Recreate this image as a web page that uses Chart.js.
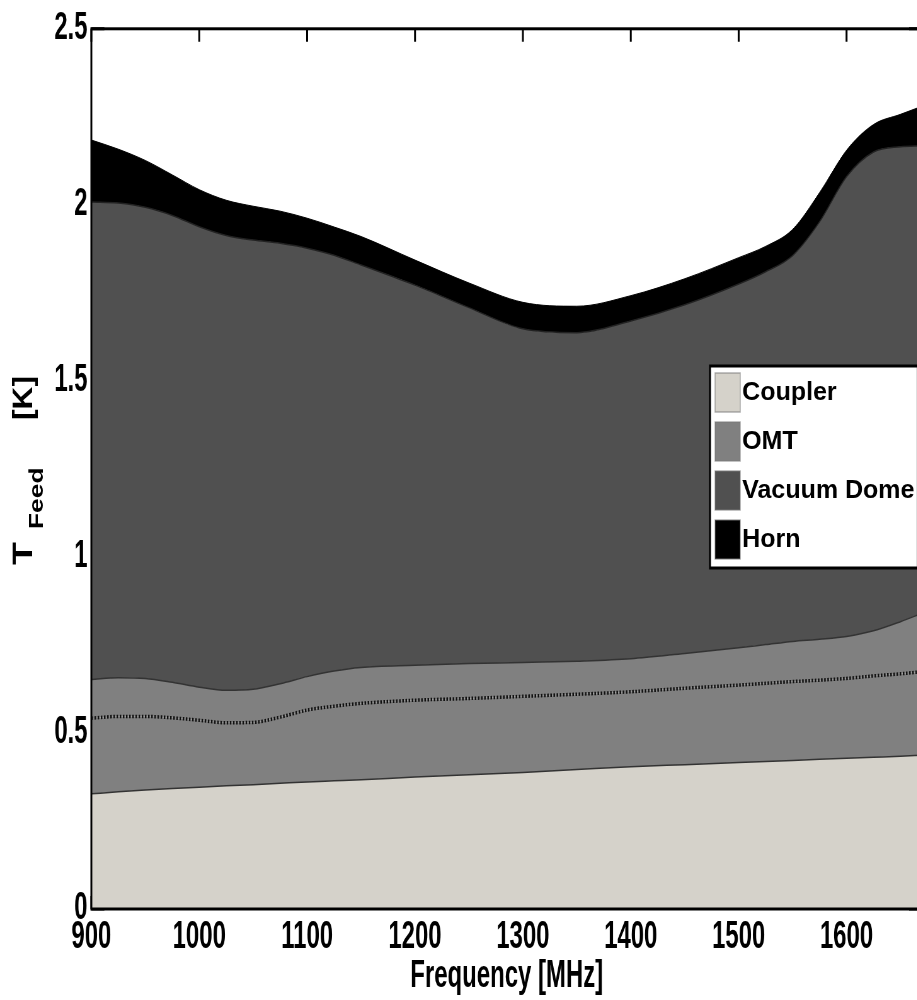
<!DOCTYPE html>
<html>
<head>
<meta charset="utf-8">
<script src="https://cdn.jsdelivr.net/npm/chart.js@4.4.1/dist/chart.umd.min.js"></script>
<style>
  html, body { margin: 0; padding: 0; background: #fff; overflow: hidden; width: 917px; height: 1000px; }
  #wrap { position: absolute; left: 0; top: 0; transform-origin: 0 0; }
  canvas { display: block; }
</style>
</head>
<body>
<div id="wrap"><canvas id="feed" width="1500" height="1000"></canvas></div>
<script>
// Horizontal compression applied to the whole figure (condensed look of the axes).
const SQUEEZE = 0.63;
document.getElementById('wrap').style.transform = 'scaleX(' + SQUEEZE + ')';

// Frequency grid [MHz]
const frequencies = [900, 925, 950, 975, 1000, 1025, 1050, 1075, 1100, 1125, 1150, 1200, 1250,
                     1300, 1350, 1400, 1450, 1500, 1525, 1550, 1575, 1600, 1625, 1650, 1670];

// Noise temperature contributions [K], stacked bottom to top
const coupler    = [0.327, 0.333, 0.338, 0.342, 0.346, 0.350, 0.353, 0.357, 0.361, 0.364, 0.367, 0.375, 0.381,
                    0.388, 0.396, 0.404, 0.410, 0.416, 0.419, 0.422, 0.425, 0.428, 0.431, 0.434, 0.437];
const omtLower   = [0.215, 0.214, 0.209, 0.201, 0.190, 0.179, 0.177, 0.188, 0.204, 0.212, 0.217, 0.218, 0.217,
                    0.216, 0.214, 0.213, 0.217, 0.220, 0.222, 0.224, 0.225, 0.227, 0.231, 0.234, 0.237];
const omtUpper   = [0.110, 0.110, 0.108, 0.101, 0.094, 0.092, 0.094, 0.095, 0.095, 0.100, 0.102, 0.099, 0.099,
                    0.096, 0.094, 0.094, 0.099, 0.106, 0.110, 0.114, 0.116, 0.119, 0.128, 0.148, 0.166];
const vacuumDome = [1.356, 1.348, 1.338, 1.326, 1.308, 1.292, 1.276, 1.251, 1.217, 1.181, 1.143, 1.080, 1.011,
                    0.948, 0.933, 0.959, 0.990, 1.033, 1.059, 1.096, 1.186, 1.306, 1.360, 1.349, 1.328];
const horn       = [0.176, 0.153, 0.133, 0.115, 0.105, 0.100, 0.096, 0.091, 0.085, 0.080, 0.081, 0.071, 0.070,
                    0.075, 0.075, 0.072, 0.074, 0.075, 0.072, 0.074, 0.083, 0.075, 0.078, 0.092, 0.112];

// Axis ticks
const xTickValues = [900, 1000, 1100, 1200, 1300, 1400, 1500, 1600];
const yTickValues = [0, 0.5, 1, 1.5, 2, 2.5];

const FONT = "'Liberation Sans', Arial, Helvetica, sans-serif";
Chart.defaults.font.family = FONT;
Chart.defaults.font.weight = 'bold';
Chart.defaults.color = '#000';

// Inward tick marks on all four sides, drawn beneath the filled areas
const innerTicks = {
  id: 'innerTicks',
  beforeDatasetsDraw(chart) {
    const { ctx, chartArea: a, scales: { x, y } } = chart;
    const len = 13;
    ctx.save();
    ctx.strokeStyle = '#000';
    ctx.lineWidth = 3;
    ctx.beginPath();
    x.ticks.forEach(t => {
      const px = x.getPixelForValue(t.value);
      ctx.moveTo(px, a.top); ctx.lineTo(px, a.top + len);
      ctx.moveTo(px, a.bottom); ctx.lineTo(px, a.bottom - len);
    });
    y.ticks.forEach(t => {
      const py = y.getPixelForValue(t.value);
      ctx.moveTo(a.left, py); ctx.lineTo(a.left + len / SQUEEZE, py);
      ctx.moveTo(a.right, py); ctx.lineTo(a.right - len / SQUEEZE, py);
    });
    ctx.stroke();
    ctx.restore();
  }
};

// Axes box
const frame = {
  id: 'frame',
  afterDatasetsDraw(chart) {
    const { ctx, chartArea: a } = chart;
    ctx.save();
    ctx.strokeStyle = '#000';
    ctx.lineWidth = 3;
    ctx.strokeRect(a.left, a.top, a.right - a.left, a.bottom - a.top);
    ctx.restore();
  }
};

// Y axis title "T_Feed [K]", read bottom to top
const yTitle = {
  id: 'yTitle',
  afterDraw(chart) {
    const ctx = chart.ctx;
    const pieces = [
      { text: 'T',    size: 44, along: 0,   across: 0,  condense: 0.85 },
      { text: 'Feed', size: 31, along: 36,  across: 17, condense: 0.85 },
      { text: '[K]',  size: 44, along: 145, across: 0,  condense: 0.72 }
    ];
    ctx.save();
    ctx.fillStyle = '#000';
    ctx.textBaseline = 'alphabetic';
    ctx.translate(51, 565);
    ctx.rotate(-Math.PI / 2);
    pieces.forEach(p => {
      ctx.save();
      ctx.translate(p.along, p.across);
      ctx.scale(p.condense, 1);
      ctx.font = 'bold ' + p.size + 'px ' + FONT;
      ctx.fillText(p.text, 0, 0);
      ctx.restore();
    });
    ctx.restore();
  }
};

// Boxed legend inside the axes
const boxLegend = {
  id: 'boxLegend',
  afterDatasetsDraw(chart) {
    const ctx = chart.ctx;
    const seen = new Set();
    const items = [];
    chart.data.datasets.forEach(ds => {
      if (!seen.has(ds.label)) { seen.add(ds.label); items.push(ds); }
    });
    const box = { left: 1127, top: 366, right: 1457, bottom: 568 };
    ctx.save();
    ctx.fillStyle = '#fff';
    ctx.fillRect(box.left, box.top, box.right - box.left, box.bottom - box.top);
    ctx.strokeStyle = '#000';
    ctx.lineWidth = 3;
    ctx.strokeRect(box.left, box.top, box.right - box.left, box.bottom - box.top);
    items.forEach((ds, i) => {
      const top = box.top + 7 + i * 49;
      ctx.fillStyle = ds.backgroundColor;
      ctx.fillRect(1135, top, 40, 39);
      ctx.strokeStyle = 'rgba(120,120,120,0.6)';
      ctx.lineWidth = 1.5;
      ctx.strokeRect(1135, top, 40, 39);
      ctx.save();
      ctx.translate(1178, top + 27);
      ctx.scale(1 / SQUEEZE, 1);
      ctx.fillStyle = '#000';
      ctx.font = 'bold 25px ' + FONT;
      ctx.textBaseline = 'alphabetic';
      ctx.fillText(ds.label, 0, 0);
      ctx.restore();
    });
    ctx.restore();
  }
};

const tickFont = { size: 38, weight: 'bold', family: FONT };

new Chart(document.getElementById('feed'), {
  type: 'line',
  data: {
    labels: frequencies,
    datasets: [
      { label: 'Coupler', data: coupler, backgroundColor: '#d5d2ca', borderColor: '#333', borderWidth: 1.5, fill: 'origin' },
      { label: 'OMT', data: omtLower, backgroundColor: '#808080', borderColor: '#111', borderWidth: 3.5, borderDash: [2.5, 2.5], fill: '-1' },
      { label: 'OMT', data: omtUpper, backgroundColor: '#808080', borderColor: '#333', borderWidth: 1.5, fill: '-1' },
      { label: 'Vacuum Dome', data: vacuumDome, backgroundColor: '#505050', borderColor: '#222', borderWidth: 1.5, fill: '-1' },
      { label: 'Horn', data: horn, backgroundColor: '#000', borderColor: '#000', borderWidth: 1, fill: '-1' }
    ]
  },
  options: {
    responsive: false,
    animation: false,
    devicePixelRatio: 1,
    layout: { padding: { top: 24, right: 36.4, bottom: 0, left: 0 } },
    elements: {
      point: { radius: 0 },
      line: { cubicInterpolationMode: 'monotone' }
    },
    plugins: { legend: { display: false }, tooltip: { enabled: false } },
    scales: {
      x: {
        type: 'linear',
        min: 900, max: 1670,
        grid: { display: false, drawTicks: false },
        border: { display: false },
        afterBuildTicks: s => { s.ticks = xTickValues.map(v => ({ value: v })); },
        afterFit: s => { s.height = 91; },
        ticks: { font: tickFont, padding: 6, maxRotation: 0, autoSkip: false, callback: v => String(v) },
        title: { display: true, text: 'Frequency [MHz]', font: tickFont, padding: { top: 0, bottom: 1 } }
      },
      y: {
        stacked: true,
        min: 0, max: 2.5,
        grid: { display: false, drawTicks: false },
        border: { display: false },
        afterBuildTicks: s => { s.ticks = yTickValues.map(v => ({ value: v })); },
        afterFit: s => { s.width = 145; },
        ticks: { font: tickFont, padding: 6, callback: v => String(v) }
      }
    }
  },
  plugins: [innerTicks, frame, yTitle, boxLegend]
});
</script>
</body>
</html>
